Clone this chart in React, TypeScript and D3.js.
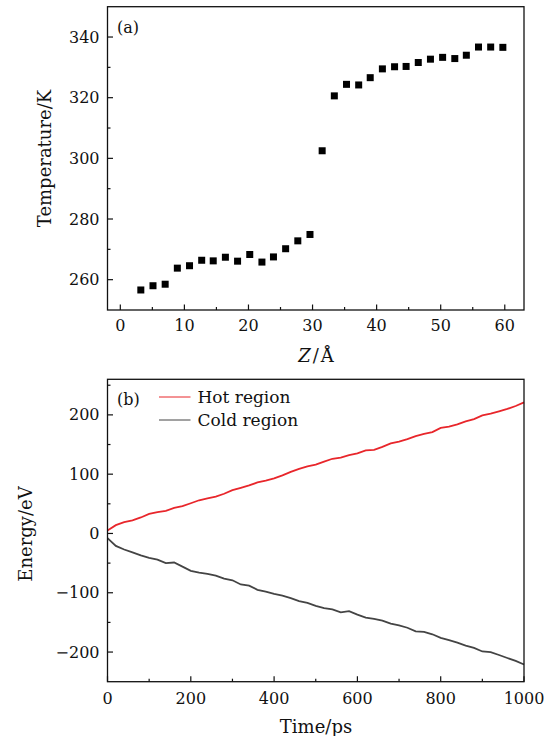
import React from "react";
import * as d3 from "d3";

// Panel (a): temperature profile
const zPositions = [3.2, 5.1, 7.0, 8.9, 10.8, 12.7, 14.5, 16.4, 18.3, 20.2, 22.1, 23.9, 25.8, 27.7, 29.6, 31.5, 33.4, 35.3, 37.2, 39.0, 40.9, 42.8, 44.6, 46.5, 48.4, 50.3, 52.2, 54.0, 55.9, 57.8, 59.7];
const temperatures = [256.6, 258.0, 258.5, 263.8, 264.6, 266.4, 266.2, 267.4, 266.1, 268.3, 265.8, 267.5, 270.2, 272.8, 274.9, 302.5, 320.6, 324.4, 324.2, 326.6, 329.5, 330.2, 330.3, 331.6, 332.7, 333.3, 332.9, 334.0, 336.7, 336.7, 336.6];
const zTicks = [0, 10, 20, 30, 40, 50, 60];
const zMinorTicks = [5, 15, 25, 35, 45, 55];
const tempTicks = [260, 280, 300, 320, 340];
const tempMinorTicks = [270, 290, 310, 330];

// Panel (b): energy vs time
const times = [0, 20, 40, 60, 80, 100, 120, 140, 160, 180, 200, 220, 240, 260, 280, 300, 320, 340, 360, 380, 400, 420, 440, 460, 480, 500, 520, 540, 560, 580, 600, 620, 640, 660, 680, 700, 720, 740, 760, 780, 800, 820, 840, 860, 880, 900, 920, 940, 960, 980, 1000];
const hotEnergy = [5, 14, 19, 22, 27, 33, 36, 38, 43, 46, 51, 56, 59, 62, 67, 73, 77, 81, 86, 89, 93, 98, 104, 109, 113, 116, 121, 126, 128, 132, 135, 140, 141, 146, 152, 155, 159, 164, 168, 171, 178, 180, 184, 189, 193, 199, 202, 206, 210, 215, 221];
const coldEnergy = [-8, -21, -27, -32, -37, -41, -44, -50, -49, -56, -63, -66, -68, -71, -76, -79, -86, -88, -95, -98, -102, -105, -109, -114, -117, -122, -126, -128, -133, -131, -137, -142, -144, -147, -152, -155, -159, -165, -166, -170, -176, -180, -184, -189, -193, -199, -200, -205, -210, -215, -221];
const timeTicks = [0, 200, 400, 600, 800, 1000];
const timeMinorTicks = [100, 300, 500, 700, 900];
const energyTicks = [-200, -100, 0, 100, 200];
const energyMinorTicks = [-150, -50, 50, 150, 250];
const legendLabels = ["Hot region", "Cold region"];

const FONT = "'DejaVu Serif', serif";
const TICK_FS = 16;
const LABEL_FS = 18;
const LEGEND_FS = 17;
const HOT = "#e8262b";
const COLD = "#444444";

const fmt = (v: number) => (v < 0 ? "\u2212" + Math.abs(v) : String(v));

export default function App() {
  const left = 107.5;
  const right = 524;

  // Panel a scales
  const xA = d3.scaleLinear().domain([-2, 63]).range([left, right]);
  const yA = d3.scaleLinear().domain([250, 350]).range([310, 6.7]);

  // Panel b scales
  const xB = d3.scaleLinear().domain([0, 1000]).range([left, right]);
  const yB = d3.scaleLinear().domain([-250, 260]).range([681.7, 379.3]);

  const lineGen = (vals: number[]) =>
    d3
      .line<number>()
      .x((_, i) => xB(times[i]))
      .y((v) => yB(v))(vals) || "";

  const sq = 7;

  const frame = (x0: number, y0: number, x1: number, y1: number) => (
    <rect x={x0} y={y0} width={x1 - x0} height={y1 - y0} fill="none" stroke="#111" strokeWidth={1.3} />
  );

  return (
    <svg
      width={558}
      height={736}
      style={{ position: "absolute", left: 0, top: 0, background: "#fff" }}
      fontFamily={FONT}
    >
      <rect x={0} y={0} width={558} height={736} fill="#fff" />

      {/* ---------- Panel (a) ---------- */}
      <g>
        {temperatures.map((t, i) => (
          <rect key={i} x={xA(zPositions[i]) - sq / 2} y={yA(t) - sq / 2} width={sq} height={sq} fill="#000" />
        ))}
        {frame(left, yA(350), right, yA(250))}
        {zTicks.map((t) => (
          <g key={"zt" + t}>
            <line x1={xA(t)} x2={xA(t)} y1={yA(250)} y2={yA(250) - 5.5} stroke="#111" strokeWidth={1.2} />
            <text x={xA(t)} y={325} textAnchor="middle" dominantBaseline="central" fontSize={TICK_FS} fill="#111">
              {fmt(t)}
            </text>
          </g>
        ))}
        {zMinorTicks.map((t) => (
          <line key={"zm" + t} x1={xA(t)} x2={xA(t)} y1={yA(250)} y2={yA(250) - 3} stroke="#111" strokeWidth={1.2} />
        ))}
        {tempTicks.map((t) => (
          <g key={"tt" + t}>
            <line x1={left} x2={left + 5.5} y1={yA(t)} y2={yA(t)} stroke="#111" strokeWidth={1.2} />
            <text x={99.5} y={yA(t)} textAnchor="end" dominantBaseline="central" fontSize={TICK_FS} fill="#111">
              {fmt(t)}
            </text>
          </g>
        ))}
        {tempMinorTicks.map((t) => (
          <line key={"tm" + t} x1={left} x2={left + 3} y1={yA(t)} y2={yA(t)} stroke="#111" strokeWidth={1.2} />
        ))}
        <text x={117} y={27} dominantBaseline="central" fontSize={TICK_FS} fill="#111">
          (a)
        </text>
        <text
          transform={`translate(44,158.5) rotate(-90)`}
          textAnchor="middle"
          dominantBaseline="central"
          fontSize={LABEL_FS}
          fill="#111"
        >
          Temperature/K
        </text>
        <text x={316} y={355} textAnchor="middle" dominantBaseline="central" fontSize={LABEL_FS} fill="#111">
          <tspan fontStyle="italic">Z</tspan>
          <tspan dx={2}>/</tspan>
          <tspan dx={2}>Å</tspan>
        </text>
      </g>

      {/* ---------- Panel (b) ---------- */}
      <g>
        <path d={lineGen(hotEnergy)} fill="none" stroke={HOT} strokeWidth={1.8} />
        <path d={lineGen(coldEnergy)} fill="none" stroke={COLD} strokeWidth={1.8} />
        {frame(left, yB(260), right, yB(-250))}
        {timeTicks.map((t) => (
          <g key={"xt" + t}>
            <line x1={xB(t)} x2={xB(t)} y1={yB(-250)} y2={yB(-250) - 5.5} stroke="#111" strokeWidth={1.2} />
            <text x={xB(t)} y={698} textAnchor="middle" dominantBaseline="central" fontSize={TICK_FS} fill="#111">
              {fmt(t)}
            </text>
          </g>
        ))}
        {timeMinorTicks.map((t) => (
          <line key={"xm" + t} x1={xB(t)} x2={xB(t)} y1={yB(-250)} y2={yB(-250) - 3} stroke="#111" strokeWidth={1.2} />
        ))}
        {energyTicks.map((t) => (
          <g key={"et" + t}>
            <line x1={left} x2={left + 5.5} y1={yB(t)} y2={yB(t)} stroke="#111" strokeWidth={1.2} />
            <text x={99.5} y={yB(t)} textAnchor="end" dominantBaseline="central" fontSize={TICK_FS} fill="#111">
              {fmt(t)}
            </text>
          </g>
        ))}
        {energyMinorTicks.map((t) => (
          <line key={"em" + t} x1={left} x2={left + 3} y1={yB(t)} y2={yB(t)} stroke="#111" strokeWidth={1.2} />
        ))}
        <text x={117} y={399} dominantBaseline="central" fontSize={TICK_FS} fill="#111">
          (b)
        </text>
        {legendLabels.map((lab, i) => (
          <g key={lab}>
            <line x1={159} x2={190.5} y1={397 + i * 23} y2={397 + i * 23} stroke={i === 0 ? HOT : COLD} strokeWidth={1} />
            <text x={197.5} y={397 + i * 23} dominantBaseline="central" fontSize={LEGEND_FS} fill="#111">
              {lab}
            </text>
          </g>
        ))}
        <text
          transform={`translate(25,534) rotate(-90)`}
          textAnchor="middle"
          dominantBaseline="central"
          fontSize={LABEL_FS}
          fill="#111"
        >
          Energy/eV
        </text>
        <text x={316} y={726} textAnchor="middle" dominantBaseline="central" fontSize={LABEL_FS} fill="#111">
          Time/ps
        </text>
      </g>
    </svg>
  );
}
